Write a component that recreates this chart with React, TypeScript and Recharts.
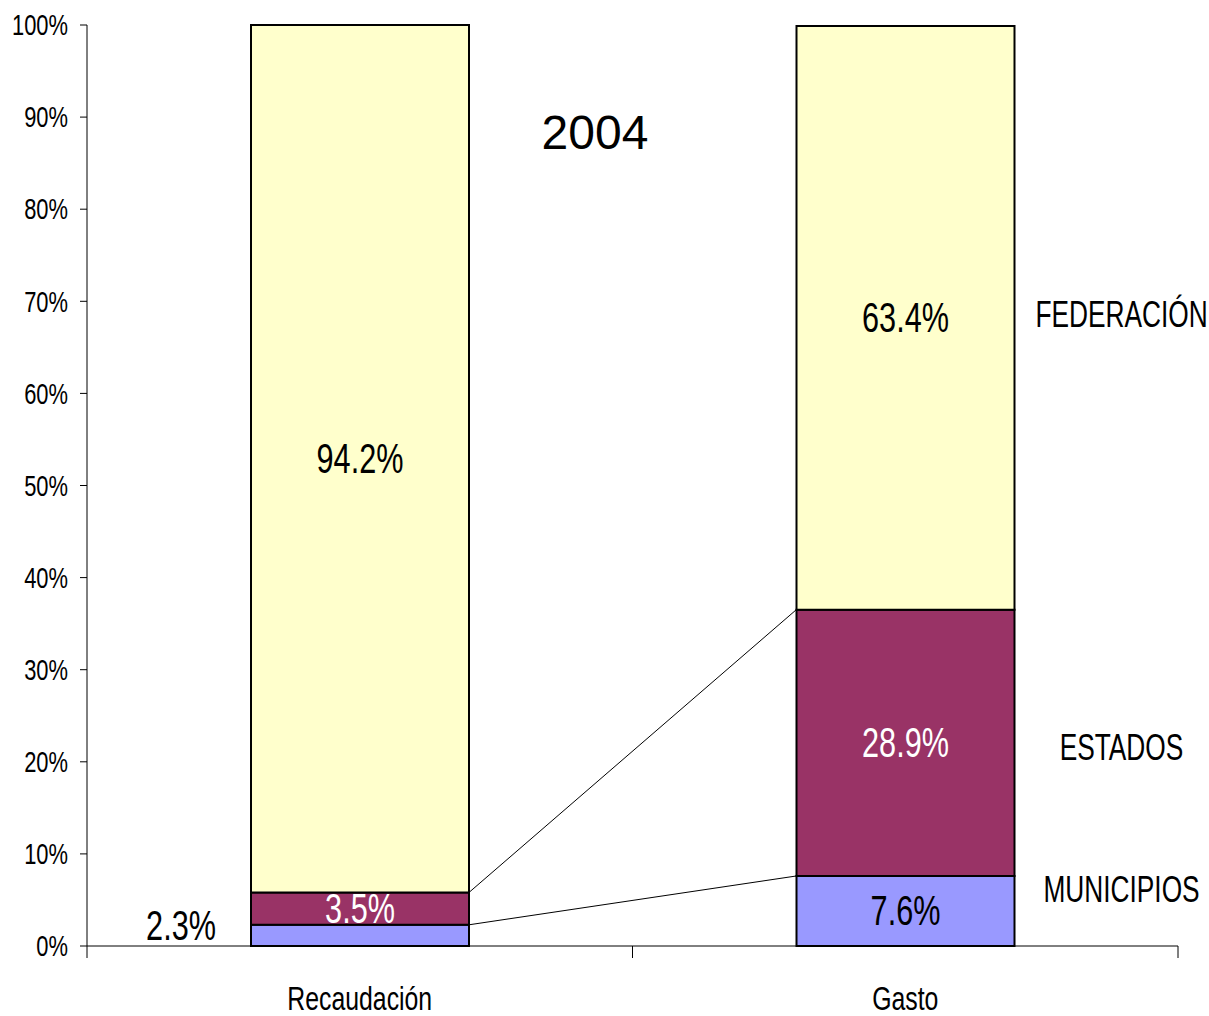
import React from 'react'
import { BarChart, Bar, XAxis, YAxis, ReferenceLine, LabelList } from 'recharts'

const categories = ['Recaudación', 'Gasto']
const positions = [0.5, 1.5]
const municipios = [2.3, 7.6]
const estados = [3.5, 28.9]
const federacion = [94.2, 63.4]
const yTicks = [0, 10, 20, 30, 40, 50, 60, 70, 80, 90, 100]
const xTicks = [0, 0.5, 1, 1.5, 2]
const title = '2004'

// Arial Narrow look: Liberation Sans squeezed horizontally
const FONT = '"Liberation Sans", Arial, sans-serif'
const SQUEEZE = 0.73
const BAR_SIZE = 218
const HALF_BAR = 0.2 // half the bar width, in x-axis units

const data = categories.map((name, i) => ({
  name,
  pos: positions[i],
  municipios: municipios[i],
  estados: estados[i],
  federacion: federacion[i],
}))

const series = [
  { key: 'municipios', name: 'MUNICIPIOS', values: municipios, fill: '#9999FF', text: '#000', nameDy: -22 },
  { key: 'estados', name: 'ESTADOS', values: estados, fill: '#993366', text: '#fff', nameDy: 5 },
  { key: 'federacion', name: 'FEDERACIÓN', values: federacion, fill: '#FFFFCC', text: '#000', nameDy: -3 },
]

// tops of the lower segments, joined by series lines
const munTop = municipios
const estTop = municipios.map((m, i) => m + estados[i])

const NText = ({ x, y, size, anchor = 'middle', fill = '#000', children }: any) => (
  <text
    transform={`translate(${x},${y}) scale(${SQUEEZE},1)`}
    x={0}
    y={0}
    textAnchor={anchor}
    dominantBaseline="central"
    fontSize={size}
    fill={fill}
    fontFamily={FONT}
  >
    {children}
  </text>
)

const YTick = (props: any) => {
  const { x, y, payload } = props
  return <NText x={x} y={y} size={30} anchor="end">{`${payload.value}%`}</NText>
}

const XTick = (props: any) => {
  const { x, y, payload } = props
  const v = payload.value
  if (Number.isInteger(v)) {
    return <line x1={x} x2={x} y1={y} y2={y + 12} stroke="#000" strokeWidth={1} />
  }
  const idx = positions.indexOf(v)
  return <NText x={x} y={y + 52} size={34}>{categories[idx]}</NText>
}

const makeLabel = (s: typeof series[number]) => (props: any) => {
  const { x, y, width, height, index } = props
  const val = `${s.values[index].toFixed(1)}%`
  const cy = y + height / 2
  const outside = s.key === 'municipios' && index === 0
  return (
    <g>
      {outside ? (
        <NText x={x - 70} y={cy - 10} size={42}>{val}</NText>
      ) : (
        <NText x={x + width / 2} y={cy} size={42} fill={s.text}>{val}</NText>
      )}
      {index === 1 && (
        <NText x={x + width + 107} y={cy + s.nameDy} size={36}>{s.name}</NText>
      )}
    </g>
  )
}

export default function App() {
  return (
    <div style={{ position: 'absolute', left: 0, top: 0, width: 1209, height: 1016, background: '#fff', fontFamily: FONT }}>
      <BarChart
        width={1209}
        height={1016}
        data={data}
        margin={{ top: 25, right: 31, bottom: 0, left: 0 }}
      >
        <XAxis
          type="number"
          dataKey="pos"
          domain={[0, 2]}
          ticks={xTicks}
          interval={0}
          tick={<XTick />}
          tickLine={false}
          tickSize={0}
          tickMargin={0}
          height={70}
          axisLine={{ stroke: '#000', strokeWidth: 1 }}
        />
        <YAxis
          domain={[0, 100]}
          ticks={yTicks}
          interval={0}
          width={87}
          tickSize={7}
          tickMargin={12}
          tick={<YTick />}
          tickLine={{ stroke: '#000' }}
          axisLine={{ stroke: '#000', strokeWidth: 1 }}
        />
        {series.map((s) => (
          <Bar
            key={s.key}
            dataKey={s.key}
            stackId="a"
            fill={s.fill}
            stroke="#000"
            strokeWidth={2}
            barSize={BAR_SIZE}
            isAnimationActive={false}
          >
            <LabelList dataKey={s.key} content={makeLabel(s)} />
          </Bar>
        ))}
        <ReferenceLine
          segment={[{ x: positions[0] + HALF_BAR, y: estTop[0] }, { x: positions[1] - HALF_BAR, y: estTop[1] }]}
          stroke="#000"
          strokeWidth={1}
        />
        <ReferenceLine
          segment={[{ x: positions[0] + HALF_BAR, y: munTop[0] }, { x: positions[1] - HALF_BAR, y: munTop[1] }]}
          stroke="#000"
          strokeWidth={1}
        />
      </BarChart>
      <div
        style={{
          position: 'absolute',
          left: 495,
          top: 109,
          width: 200,
          textAlign: 'center',
          fontSize: 48,
          lineHeight: '48px',
          fontFamily: FONT,
          color: '#000',
        }}
      >
        {title}
      </div>
    </div>
  )
}
